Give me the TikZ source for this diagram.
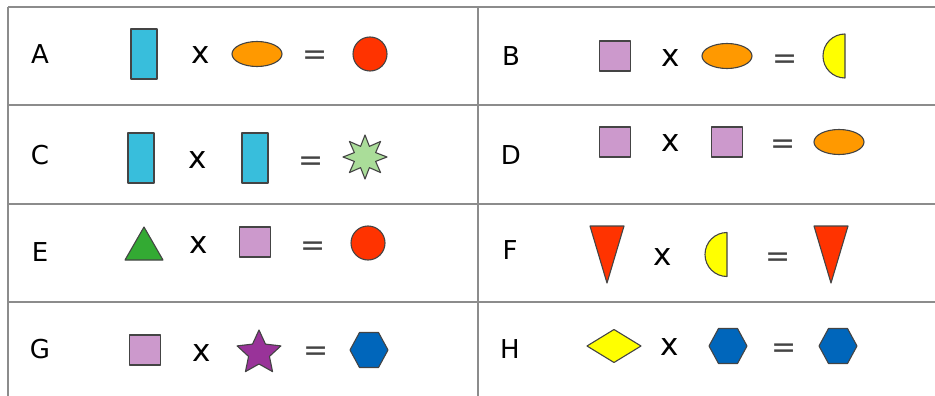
\documentclass[tikz,border=0pt]{standalone}
\usepackage{fontspec}
\setmainfont{DejaVu Sans}
\definecolor{gridgray}{HTML}{8C8C8C}
\definecolor{shapeline}{HTML}{444444}
\definecolor{cyanb}{HTML}{38BEDC}
\definecolor{orangef}{HTML}{FF9900}
\definecolor{redf}{HTML}{FF3300}
\definecolor{pinkf}{HTML}{CC99CC}
\definecolor{yellowf}{HTML}{FFFF00}
\definecolor{greenf}{HTML}{33AA33}
\definecolor{purplef}{HTML}{993399}
\definecolor{bluef}{HTML}{0066BB}
\definecolor{lgreenf}{HTML}{AADD99}
\definecolor{eqgray}{HTML}{444444}
\tikzset{
  outl/.style={draw=shapeline, line width=1.1pt, line join=round},
  gridline/.style={draw=gridgray, line width=2pt},
  lbl/.style={font=\fontsize{26}{30}\selectfont, inner sep=0pt},
  op/.style={font=\fontsize{31}{36}\selectfont, inner sep=0pt},
  eqs/.style={font=\fontsize{30}{34}\selectfont, text=eqgray, inner sep=0pt, yshift=-4pt},
  bluerect/.pic={\path[outl,fill=cyanb] (-13,-25) rectangle (13,25);},
  pinksq/.pic={\path[outl,fill=pinkf] (-15.5,-15) rectangle (15.5,15);},
  orangeell/.pic={\path[outl,fill=orangef] (0,0) ellipse [x radius=25, y radius=12.5];},
  redcirc/.pic={\path[outl,fill=redf] (0,0) circle [radius=17];},
  halfmoon/.pic={\path[outl,fill=yellowf] (12,22) arc[start angle=90,end angle=270,radius=22] -- cycle;},
  downtri/.pic={\path[outl,fill=redf] (-17,-28.5) -- (17,-28.5) -- (0,28.5) -- cycle;},
  greentri/.pic={\path[outl,fill=greenf] (0,-16.5) -- (19,16.5) -- (-19,16.5) -- cycle;},
  yellowdia/.pic={\path[outl,fill=yellowf] (-27,0) -- (0,-16.5) -- (27,0) -- (0,16.5) -- cycle;},
  bluehex/.pic={\path[outl,fill=bluef] (-19,0) -- (-9.5,-17.5) -- (9.5,-17.5) -- (19,0) -- (9.5,17.5) -- (-9.5,17.5) -- cycle;},
  stareight/.pic={\path[outl,fill=lgreenf] (-90:22) \foreach \i in {1,...,15} { -- ({-90+22.5*\i}:{ifthenelse(mod(\i,2)==1,11.5,22)}) } -- cycle;},
  starfive/.pic={\path[outl,fill=purplef] (-90:23) \foreach \i in {1,...,9} { -- ({-90+36*\i}:{ifthenelse(mod(\i,2)==1,11,23)}) } -- cycle;}
}
\begin{document}
\begin{tikzpicture}[x=1pt,y=-1pt]
\useasboundingbox (0,0) rectangle (935,396);
% table lines
\coordinate (tl) at (8,7);
\coordinate (tr) at (935,7);
\coordinate (bl) at (8,396);
\coordinate (mt) at (478,7);
\coordinate (mb) at (478,396);
\coordinate (h1l) at (8,105);  \coordinate (h1r) at (935,105);
\coordinate (h2l) at (8,204);  \coordinate (h2r) at (935,204);
\coordinate (h3l) at (8,302);  \coordinate (h3r) at (935,302);
\draw[gridline] (tl) -- (tr);
\draw[gridline] (tl) -- (bl);
\draw[gridline] (mt) -- (mb);
\draw[gridline] (h1l) -- (h1r);
\draw[gridline] (h2l) -- (h2r);
\draw[gridline] (h3l) -- (h3r);
% labels
\node[lbl] (lA) at (40,54) {A};
\node[lbl] (lB) at (511,56) {B};
\node[lbl] (lC) at (40,155) {C};
\node[lbl] (lD) at (511,155) {D};
\node[lbl] (lE) at (40,252) {E};
\node[lbl] (lF) at (510,250) {F};
\node[lbl] (lG) at (40,349) {G};
\node[lbl] (lH) at (510,349) {H};
% row A
\pic (a1) at (144,54) {bluerect};
\node[op] (ax) at (201,55) {x};
\pic (a2) at (257,54) {orangeell};
\node[eqs] (aeq) at (315,54) {=};
\pic (a3) at (370,54) {redcirc};
% row B
\pic (b1) at (615,56) {pinksq};
\node[op] (bx) at (671,58) {x};
\pic (b2) at (727,56) {orangeell};
\node[eqs] (beq) at (785,58) {=};
\pic (b3) at (833,56) {halfmoon};
% row C
\pic (c1) at (141,158) {bluerect};
\node[op] (cx) at (198,160) {x};
\pic (c2) at (255,158) {bluerect};
\node[eqs] (ceq) at (311,160) {=};
\pic (c3) at (365,157) {stareight};
% row D
\pic (d1) at (615,142) {pinksq};
\node[op] (dx) at (671,143) {x};
\pic (d2) at (727,142) {pinksq};
\node[eqs] (deq) at (783,143) {=};
\pic (d3) at (839,142) {orangeell};
% row E
\pic (e1) at (144,243.5) {greentri};
\node[op] (ex) at (199,245) {x};
\pic (e2) at (255,242) {pinksq};
\node[eqs] (eeq) at (313,245) {=};
\pic (e3) at (368,243) {redcirc};
% row F
\pic (f1) at (607,254.5) {downtri};
\node[op] (fx) at (663,257) {x};
\pic (f2) at (715,254.5) {halfmoon};
\node[eqs] (feq) at (778,256) {=};
\pic (f3) at (831,254.5) {downtri};
% row G
\pic (g1) at (145,350) {pinksq};
\node[op] (gx) at (202,353) {x};
\pic (g2) at (259,353) {starfive};
\node[eqs] (geq) at (316,350) {=};
\pic (g3) at (369,350) {bluehex};
% row H
\pic (h1) at (614,346) {yellowdia};
\node[op] (hx) at (670,347) {x};
\pic (h2) at (728,346) {bluehex};
\node[eqs] (heq) at (784,347) {=};
\pic (h3) at (838,346) {bluehex};
\end{tikzpicture}
\end{document}
